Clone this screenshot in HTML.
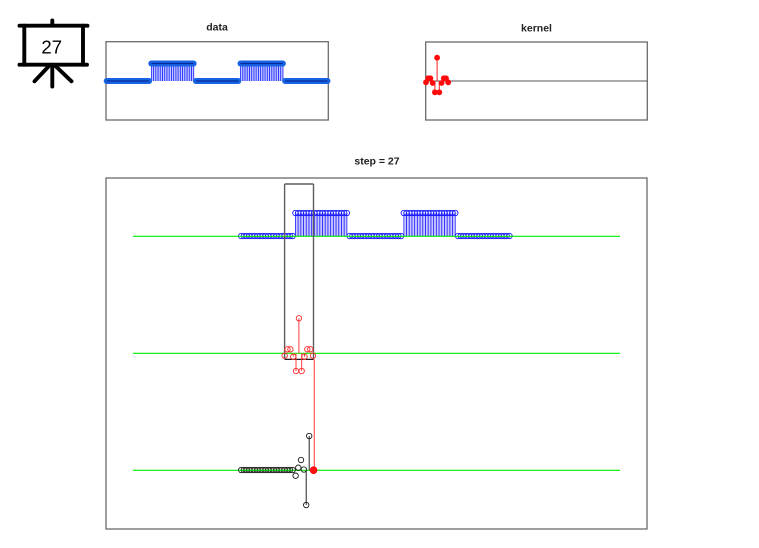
<!DOCTYPE html>
<html><head><meta charset="utf-8"><style>
html,body{margin:0;padding:0;background:#fff;}
svg{display:block;}
text{font-family:"Liberation Sans",Arial,sans-serif;}
</style></head><body>
<svg width="759" height="548" viewBox="0 0 759 548" xmlns="http://www.w3.org/2000/svg">
<defs>
<pattern id="ps" patternUnits="userSpaceOnUse" x="150.9" y="0" width="2.23" height="200"><rect x="0" y="0" width="0.9" height="200" fill="#1f2cff"/></pattern>
<pattern id="pm" patternUnits="userSpaceOnUse" x="294.95" y="0" width="2.71" height="400"><rect x="0" y="0" width="0.9" height="400" fill="#2a2aff"/></pattern>
</defs>
<rect width="759" height="548" fill="#fff"/>

<!-- icon -->
<g stroke="#000" stroke-width="3.9" stroke-linecap="round" fill="none">
<line x1="52.3" y1="20.5" x2="52.3" y2="25"/>
<line x1="19.5" y1="25.7" x2="87.5" y2="25.7"/>
<line x1="24.3" y1="25.7" x2="24.3" y2="64.7"/>
<line x1="83" y1="25.7" x2="83" y2="64.7"/>
<line x1="19.5" y1="64.7" x2="87" y2="64.7"/>
<line x1="52.3" y1="64.7" x2="52.3" y2="86.5"/>
<line x1="48.5" y1="66.5" x2="34.5" y2="81.3"/>
<line x1="56" y1="66.5" x2="71.5" y2="81.3"/>
</g>
<text x="51.7" y="53.3" font-size="18.5" text-anchor="middle" fill="#000">27</text>

<!-- titles -->
<text x="217" y="30.7" font-size="10.5" font-weight="bold" text-anchor="middle" fill="#222">data</text>
<text x="536.5" y="31.5" font-size="10.5" font-weight="bold" text-anchor="middle" fill="#222">kernel</text>
<text x="377" y="164.5" font-size="10.5" font-weight="bold" text-anchor="middle" fill="#222">step = 27</text>

<!-- data plot -->
<rect x="106" y="41.7" width="222.3" height="78.3" fill="none" stroke="#6b6b6b" stroke-width="1.3"/>
<rect x="151" y="63.5" width="43" height="17.5" fill="#c4c8ff"/>
<rect x="240.2" y="63.5" width="43" height="17.5" fill="#c4c8ff"/>
<rect x="150.9" y="63.5" width="43.6" height="17.5" fill="url(#ps)"/>
<rect x="240.1" y="63.5" width="43.6" height="17.5" fill="url(#ps)"/>
<g stroke="#1664e4" stroke-width="6" stroke-linecap="round">
<line x1="106.7" y1="81" x2="149.07" y2="81"/>
<line x1="151.3" y1="63.5" x2="193.67" y2="63.5"/>
<line x1="195.9" y1="81" x2="238.27" y2="81"/>
<line x1="240.5" y1="63.5" x2="282.87" y2="63.5"/>
<line x1="285.1" y1="81" x2="327.47" y2="81"/>
</g>
<g stroke="#0a2a9a" stroke-width="1.2">
<line x1="106.7" y1="81" x2="149.07" y2="81"/>
<line x1="151.3" y1="63.5" x2="193.67" y2="63.5"/>
<line x1="195.9" y1="81" x2="238.27" y2="81"/>
<line x1="240.5" y1="63.5" x2="282.87" y2="63.5"/>
<line x1="285.1" y1="81" x2="327.47" y2="81"/>
</g>

<!-- kernel plot -->
<rect x="425.7" y="42" width="221.6" height="78" fill="none" stroke="#6b6b6b" stroke-width="1.3"/>
<line x1="425.7" y1="81" x2="647.3" y2="81" stroke="#555" stroke-width="1.1"/>
<g stroke="#ff2020" stroke-width="1">
<line x1="437.1" y1="81" x2="437.1" y2="57.7"/>
<line x1="434.9" y1="81" x2="434.9" y2="92.3"/>
<line x1="439.3" y1="81" x2="439.3" y2="92.3"/>
</g>
<g fill="#ff0a0a">
<circle cx="426" cy="82.3" r="2.9"/>
<circle cx="428.2" cy="78.3" r="2.9"/>
<circle cx="430.4" cy="78.3" r="2.9"/>
<circle cx="432.7" cy="83" r="2.9"/>
<circle cx="434.9" cy="92.3" r="2.9"/>
<circle cx="437.1" cy="57.7" r="2.9"/>
<circle cx="439.3" cy="92.3" r="2.9"/>
<circle cx="441.6" cy="83" r="2.9"/>
<circle cx="443.8" cy="78.3" r="2.9"/>
<circle cx="446" cy="78.3" r="2.9"/>
<circle cx="448.2" cy="82.3" r="2.9"/>
</g>

<!-- main plot -->
<rect x="106" y="178" width="541" height="351" fill="none" stroke="#6b6b6b" stroke-width="1.3"/>

<!-- stems main -->
<rect x="295.4" y="213" width="51.5" height="23" fill="#c8c8ff"/>
<rect x="403.8" y="213" width="51.5" height="23" fill="#c8c8ff"/>
<rect x="294.95" y="213" width="52.5" height="23" fill="url(#pm)"/>
<rect x="403.35" y="213" width="52.5" height="23" fill="url(#pm)"/>

<g fill="none" stroke="#1a1aff" stroke-width="0.9">
<circle cx="241.2" cy="236" r="2.7"/><circle cx="243.91" cy="236" r="2.7"/><circle cx="246.62" cy="236" r="2.7"/><circle cx="249.33" cy="236" r="2.7"/><circle cx="252.04" cy="236" r="2.7"/><circle cx="254.75" cy="236" r="2.7"/><circle cx="257.46" cy="236" r="2.7"/><circle cx="260.17" cy="236" r="2.7"/><circle cx="262.88" cy="236" r="2.7"/><circle cx="265.59" cy="236" r="2.7"/><circle cx="268.3" cy="236" r="2.7"/><circle cx="271.01" cy="236" r="2.7"/><circle cx="273.72" cy="236" r="2.7"/><circle cx="276.43" cy="236" r="2.7"/><circle cx="279.14" cy="236" r="2.7"/><circle cx="281.85" cy="236" r="2.7"/><circle cx="284.56" cy="236" r="2.7"/><circle cx="287.27" cy="236" r="2.7"/><circle cx="289.98" cy="236" r="2.7"/><circle cx="292.69" cy="236" r="2.7"/>
<circle cx="295.4" cy="213" r="2.7"/><circle cx="298.11" cy="213" r="2.7"/><circle cx="300.82" cy="213" r="2.7"/><circle cx="303.53" cy="213" r="2.7"/><circle cx="306.24" cy="213" r="2.7"/><circle cx="308.95" cy="213" r="2.7"/><circle cx="311.66" cy="213" r="2.7"/><circle cx="314.37" cy="213" r="2.7"/><circle cx="317.08" cy="213" r="2.7"/><circle cx="319.79" cy="213" r="2.7"/><circle cx="322.5" cy="213" r="2.7"/><circle cx="325.21" cy="213" r="2.7"/><circle cx="327.92" cy="213" r="2.7"/><circle cx="330.63" cy="213" r="2.7"/><circle cx="333.34" cy="213" r="2.7"/><circle cx="336.05" cy="213" r="2.7"/><circle cx="338.76" cy="213" r="2.7"/><circle cx="341.47" cy="213" r="2.7"/><circle cx="344.18" cy="213" r="2.7"/><circle cx="346.89" cy="213" r="2.7"/>
<circle cx="349.6" cy="236" r="2.7"/><circle cx="352.31" cy="236" r="2.7"/><circle cx="355.02" cy="236" r="2.7"/><circle cx="357.73" cy="236" r="2.7"/><circle cx="360.44" cy="236" r="2.7"/><circle cx="363.15" cy="236" r="2.7"/><circle cx="365.86" cy="236" r="2.7"/><circle cx="368.57" cy="236" r="2.7"/><circle cx="371.28" cy="236" r="2.7"/><circle cx="373.99" cy="236" r="2.7"/><circle cx="376.7" cy="236" r="2.7"/><circle cx="379.41" cy="236" r="2.7"/><circle cx="382.12" cy="236" r="2.7"/><circle cx="384.83" cy="236" r="2.7"/><circle cx="387.54" cy="236" r="2.7"/><circle cx="390.25" cy="236" r="2.7"/><circle cx="392.96" cy="236" r="2.7"/><circle cx="395.67" cy="236" r="2.7"/><circle cx="398.38" cy="236" r="2.7"/><circle cx="401.09" cy="236" r="2.7"/>
<circle cx="403.8" cy="213" r="2.7"/><circle cx="406.51" cy="213" r="2.7"/><circle cx="409.22" cy="213" r="2.7"/><circle cx="411.93" cy="213" r="2.7"/><circle cx="414.64" cy="213" r="2.7"/><circle cx="417.35" cy="213" r="2.7"/><circle cx="420.06" cy="213" r="2.7"/><circle cx="422.77" cy="213" r="2.7"/><circle cx="425.48" cy="213" r="2.7"/><circle cx="428.19" cy="213" r="2.7"/><circle cx="430.9" cy="213" r="2.7"/><circle cx="433.61" cy="213" r="2.7"/><circle cx="436.32" cy="213" r="2.7"/><circle cx="439.03" cy="213" r="2.7"/><circle cx="441.74" cy="213" r="2.7"/><circle cx="444.45" cy="213" r="2.7"/><circle cx="447.16" cy="213" r="2.7"/><circle cx="449.87" cy="213" r="2.7"/><circle cx="452.58" cy="213" r="2.7"/><circle cx="455.29" cy="213" r="2.7"/>
<circle cx="458" cy="236" r="2.7"/><circle cx="460.71" cy="236" r="2.7"/><circle cx="463.42" cy="236" r="2.7"/><circle cx="466.13" cy="236" r="2.7"/><circle cx="468.84" cy="236" r="2.7"/><circle cx="471.55" cy="236" r="2.7"/><circle cx="474.26" cy="236" r="2.7"/><circle cx="476.97" cy="236" r="2.7"/><circle cx="479.68" cy="236" r="2.7"/><circle cx="482.39" cy="236" r="2.7"/><circle cx="485.1" cy="236" r="2.7"/><circle cx="487.81" cy="236" r="2.7"/><circle cx="490.52" cy="236" r="2.7"/><circle cx="493.23" cy="236" r="2.7"/><circle cx="495.94" cy="236" r="2.7"/><circle cx="498.65" cy="236" r="2.7"/><circle cx="501.36" cy="236" r="2.7"/><circle cx="504.07" cy="236" r="2.7"/><circle cx="506.78" cy="236" r="2.7"/><circle cx="509.49" cy="236" r="2.7"/>
</g>

<!-- green baselines -->
<g stroke="#00ee00" stroke-width="1.1">
<line x1="133" y1="236.3" x2="620" y2="236.3"/>
<line x1="133" y1="353.3" x2="620" y2="353.3"/>
<line x1="133" y1="470.3" x2="620" y2="470.3"/>
</g>

<!-- kernel window box -->
<g fill="none" stroke="#5e5e5e" stroke-width="1.4">
<line x1="284.6" y1="184" x2="284.6" y2="359.3"/>
<line x1="313.5" y1="184" x2="313.5" y2="359.3"/>
<line x1="284.6" y1="184" x2="313.5" y2="184"/>
</g>
<line x1="284.6" y1="359.3" x2="313.5" y2="359.3" stroke="#000" stroke-width="1.2"/>

<!-- kernel in main -->
<g stroke="#ff2a2a" stroke-width="0.9">
<line x1="298.9" y1="353.3" x2="298.9" y2="318.3"/>
<line x1="296" y1="353.3" x2="296" y2="371"/>
<line x1="301.7" y1="353.3" x2="301.7" y2="371"/>
<line x1="293.2" y1="353.3" x2="293.2" y2="356.7"/>
<line x1="304.5" y1="353.3" x2="304.5" y2="356.7"/>
</g>
<g fill="none" stroke="#ff2a2a" stroke-width="0.9">
<circle cx="284.7" cy="355.7" r="2.7"/>
<circle cx="287.5" cy="349.3" r="2.7"/>
<circle cx="290.4" cy="349.3" r="2.7"/>
<circle cx="293.2" cy="356.7" r="2.7"/>
<circle cx="296" cy="371" r="2.7"/>
<circle cx="298.9" cy="318.3" r="2.7"/>
<circle cx="301.7" cy="371" r="2.7"/>
<circle cx="304.5" cy="356.7" r="2.7"/>
<circle cx="307.3" cy="349.3" r="2.7"/>
<circle cx="310.2" cy="349.3" r="2.7"/>
<circle cx="313" cy="355.7" r="2.7"/>
</g>

<!-- red connector -->
<line x1="314.3" y1="359.3" x2="314.3" y2="470" stroke="#ff4a4a" stroke-width="1.1"/>

<!-- output -->
<g stroke="#222" stroke-width="1">
<line x1="306.2" y1="470.3" x2="306.2" y2="505"/>
<line x1="309.2" y1="470.3" x2="309.2" y2="436"/>
</g>
<g fill="none" stroke="#1a1a1a" stroke-width="0.9">
<circle cx="241.2" cy="470" r="2.7"/><circle cx="243.91" cy="470" r="2.7"/><circle cx="246.62" cy="470" r="2.7"/><circle cx="249.33" cy="470" r="2.7"/><circle cx="252.04" cy="470" r="2.7"/><circle cx="254.75" cy="470" r="2.7"/><circle cx="257.46" cy="470" r="2.7"/><circle cx="260.17" cy="470" r="2.7"/><circle cx="262.88" cy="470" r="2.7"/><circle cx="265.59" cy="470" r="2.7"/><circle cx="268.3" cy="470" r="2.7"/><circle cx="271.01" cy="470" r="2.7"/><circle cx="273.72" cy="470" r="2.7"/><circle cx="276.43" cy="470" r="2.7"/><circle cx="279.14" cy="470" r="2.7"/><circle cx="281.85" cy="470" r="2.7"/><circle cx="284.56" cy="470" r="2.7"/><circle cx="287.27" cy="470" r="2.7"/><circle cx="289.98" cy="470" r="2.7"/><circle cx="292.69" cy="470" r="2.7"/>
<circle cx="295.6" cy="475.7" r="2.7"/>
<circle cx="298.3" cy="467.7" r="2.7"/>
<circle cx="301" cy="460" r="2.7"/>
<circle cx="303.8" cy="469.5" r="2.7"/>
<circle cx="306.2" cy="505" r="2.7"/>
<circle cx="309.2" cy="436" r="2.7"/>
</g>
<line x1="241.2" y1="470.3" x2="292.7" y2="470.3" stroke="#00cc00" stroke-width="1"/>
<circle cx="313.6" cy="470.2" r="3.4" fill="#ff1010" stroke="#ff0000" stroke-width="0.8"/>
</svg>
</body></html>
